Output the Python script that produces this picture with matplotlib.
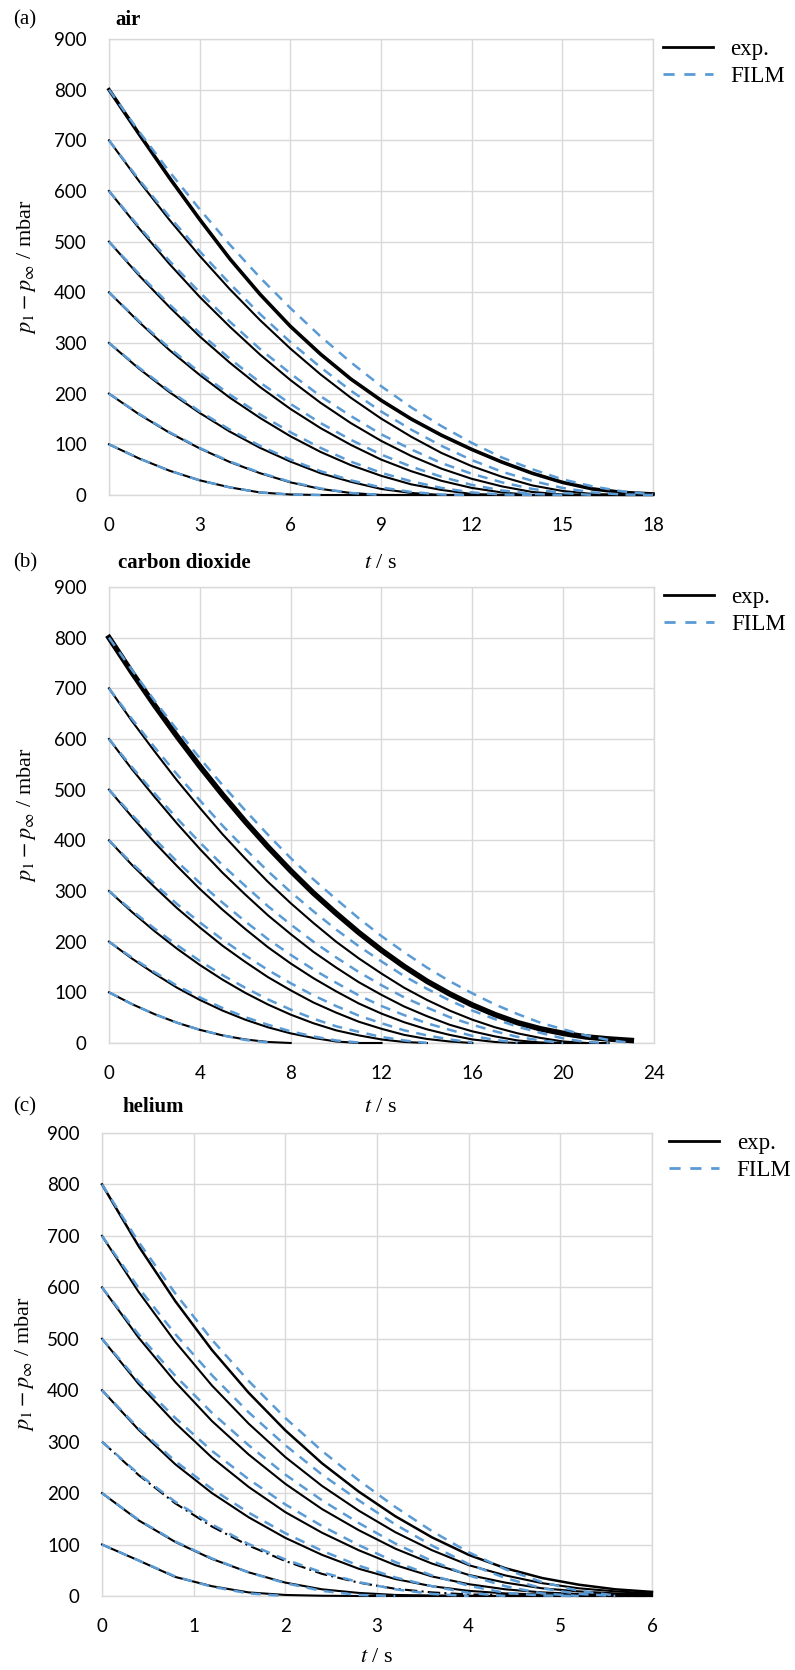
import numpy as np
import matplotlib
matplotlib.use("Agg")
import matplotlib.pyplot as plt
from matplotlib.lines import Line2D

plt.rcParams['font.family'] = ['Liberation Serif', 'DejaVu Serif']
plt.rcParams['mathtext.fontset'] = 'stix'

BLUE = '#5b9bd5'
GRID = '#d9d9d9'
N = None

# ---- data (pressure difference in mbar) ----
start_p = [100, 200, 300, 400, 500, 600, 700, 800]

# (a) air, t = 0..18 s
air_t = list(range(19))
air_exp = [
    [100, 72, 48, 29, 15, 5, 1, 0, 0, 0, 0, 0, 0, 0, 0, 0, 0, 0, 0],
    [200, 159, 123, 92, 65, 43, 25, 12, 4, 0, 0, 0, 0, 0, 0, 0, 0, 0, 0],
    [300, 249, 203, 162, 125, 93, 66, 43, 26, 12, 4, 0, 0, 0, 0, 0, 0, 0, 0],
    [400, 341, 286, 237, 192, 152, 116, 85, 59, 38, 21, 10, 2, 0, 0, 0, 0, 0, 0],
    [500, 433, 371, 313, 261, 213, 170, 132, 99, 70, 47, 28, 14, 5, 0, 0, 0, 0, 0],
    [600, 526, 456, 391, 332, 277, 227, 182, 142, 107, 77, 52, 32, 17, 6, 1, 0, 0, 0],
    [700, 619, 543, 472, 406, 345, 289, 238, 192, 151, 115, 83, 57, 36, 19, 8, 2, 0, 0],
    [800, 712, 626, 544, 466, 396, 333, 278, 229, 187, 150, 118, 90, 65, 43, 25, 12, 5, 2],
]
air_film = [
    [100, 72, 48, 29, 15, 5, 1, 0, N, N, N, N, N, N, N, N, N, N, N],
    [200, 160, 124, 93, 66, 44, 26, 13, 4, 0, N, N, N, N, N, N, N, N, N],
    [300, 251, 206, 165, 129, 97, 70, 47, 29, 15, 6, 1, 0, N, N, N, N, N, N],
    [400, 343, 290, 242, 198, 159, 124, 93, 66, 44, 27, 14, 5, 1, 0, N, N, N, N],
    [500, 436, 376, 320, 269, 222, 180, 142, 109, 80, 56, 36, 20, 9, 2, 0, N, N, N],
    [600, 529, 462, 400, 342, 288, 240, 195, 156, 120, 90, 63, 42, 25, 12, 4, 0, N, N],
    [700, 622, 549, 481, 417, 357, 302, 252, 206, 165, 129, 97, 69, 46, 28, 14, 5, 1, 0],
    [800, 717, 638, 564, 494, 429, 369, 313, 262, 215, 173, 136, 103, 74, 51, 31, 17, 7, 1],
]

# (b) carbon dioxide, t = 0..23 s
co2_t = list(range(24))
co2_exp = [
    [100, 77, 57, 40, 26, 15, 7, 2, 0] + [N] * 15,
    [200, 167, 137, 109, 85, 64, 46, 31, 19, 10, 3, 0, 0] + [N] * 11,
    [300, 259, 221, 186, 154, 125, 99, 76, 56, 39, 25, 15, 7, 2, 0] + [N] * 9,
    [400, 352, 308, 266, 228, 192, 160, 130, 104, 80, 60, 42, 28, 16, 8, 3, 0] + [N] * 7,
    [500, 447, 396, 349, 304, 263, 225, 189, 157, 128, 102, 78, 58, 41, 27, 16, 7, 2, 0, 0, 0] + [N] * 3,
    [600, 541, 486, 433, 383, 336, 293, 252, 215, 180, 149, 120, 95, 72, 53, 36, 23, 13, 5, 1, 0, 0] + [N] * 2,
    [700, 636, 576, 518, 464, 412, 364, 318, 276, 237, 200, 167, 137, 109, 85, 64, 46, 31, 19, 10, 3, 0, 0] + [N],
    [800, 732, 667, 605, 546, 490, 437, 387, 340, 296, 256, 218, 183, 151, 122, 97, 75, 56, 40, 28, 19, 12, 8, 5],
]
co2_film = [
    [100, 77, 57, 40, 26, 15, 6, 1] + [N] * 16,
    [200, 169, 140, 113, 90, 69, 51, 36, 23, 13, 5, 1] + [N] * 12,
    [300, 262, 226, 193, 162, 134, 109, 86, 66, 48, 33, 22, 12, 5, 0] + [N] * 9,
    [400, 355, 314, 274, 238, 204, 173, 144, 118, 94, 73, 54, 39, 25, 15, 7, 1] + [N] * 7,
    [500, 451, 403, 358, 316, 277, 240, 205, 174, 145, 119, 94, 73, 55, 39, 26, 14, 6, 1] + [N] * 5,
    [600, 545, 493, 443, 396, 351, 310, 270, 234, 200, 169, 140, 114, 90, 70, 51, 36, 23, 12, 5, 0] + [N] * 3,
    [700, 640, 584, 530, 479, 429, 383, 339, 298, 260, 224, 191, 161, 132, 107, 84, 64, 47, 32, 20, 9, 2, 0] + [N],
    [800, 737, 676, 618, 562, 509, 459, 411, 365, 323, 284, 246, 211, 179, 149, 122, 98, 76, 57, 40, 27, 15, 6, 0],
]

# (c) helium, t = 0..6 s in 0.4 s steps
he_t = [0, 0.4, 0.8, 1.2, 1.6, 2.0, 2.4, 2.8, 3.2, 3.6, 4.0, 4.4, 4.8, 5.2, 5.6, 6.0]
he_exp = [
    [100, 69, 37, 19, 7, 2, 0.5, 0, 0, 0, 0, 0, 0, 0, 0, 0],
    [200, 147, 105, 72, 46, 26, 13, 6, 2, 1, 0.5, 0, 0, 0, 0, 0],
    [300, 235, 180, 135, 98, 68, 43, 26, 14, 7, 3, 2, 1, 0.5, 0, 0],
    [400, 323, 256, 200, 153, 113, 80, 53, 33, 19, 10, 5, 3, 2, 1, 1],
    [500, 412, 336, 269, 212, 163, 123, 89, 60, 38, 23, 13, 7, 4, 3, 2],
    [600, 502, 416, 340, 275, 218, 169, 128, 92, 63, 41, 26, 15, 9, 5, 3],
    [700, 591, 494, 409, 335, 270, 214, 166, 124, 89, 60, 40, 25, 15, 9, 5],
    [800, 680, 573, 478, 395, 322, 258, 203, 155, 114, 80, 54, 35, 22, 13, 8],
]
he_film = [
    [100, 69, 38, 18, 5, 0] + [N] * 10,
    [200, 148, 106, 73, 46, 25, 10, 2, 0] + [N] * 7,
    [300, 237, 183, 139, 101, 71, 46, 27, 13, 4, 0] + [N] * 5,
    [400, 326, 262, 208, 162, 122, 88, 59, 36, 19, 6, 0] + [N] * 4,
    [500, 417, 346, 282, 227, 178, 136, 99, 66, 40, 20, 6, 1, 0] + [N] * 2,
    [600, 508, 428, 356, 293, 236, 186, 142, 102, 68, 40, 19, 5, 0] + [N] * 2,
    [700, 599, 509, 429, 357, 293, 236, 186, 139, 98, 62, 35, 15, 4, 0, N],
    [800, 688, 588, 498, 418, 346, 282, 225, 173, 126, 85, 52, 27, 10, 1, N],
]

W, H = 795, 1670
fig = plt.figure(figsize=(W / 100, H / 100), dpi=100)


def px_rect(left, top, right, bottom):
    return [left / W, 1 - bottom / H, (right - left) / W, (bottom - top) / H]


def panel(rect, t, exp_rows, film_rows, xmax, xstep, leg_x, thick_lw, dashed_exp=None):
    ax = fig.add_axes(rect)
    t = np.array(t, dtype=float)
    for i, row in enumerate(exp_rows):
        lw = thick_lw if i == len(exp_rows) - 1 else 1.5
        ls = '-'
        if dashed_exp is not None and i == dashed_exp:
            ls = (0, (6, 2, 1, 2))
        ax.plot(t, np.array(row, dtype=float), color='black', lw=lw, ls=ls, clip_on=False, zorder=3)
    for row in film_rows:
        ax.plot(t, np.array(row, dtype=float), color=BLUE, lw=1.8, dashes=(4, 3), clip_on=False, zorder=4)
    ax.set_xlim(0, xmax)
    ax.set_ylim(0, 900)
    ax.set_xticks(np.arange(0, xmax + xstep / 2, xstep))
    ax.set_yticks(range(0, 901, 100))
    ax.grid(color=GRID, lw=1.0)
    ax.set_axisbelow(True)
    for s in ax.spines.values():
        s.set_color(GRID)
        s.set_linewidth(1.0)
    ax.tick_params(length=0, labelsize=13.5, pad=16)
    for lab in ax.get_xticklabels() + ax.get_yticklabels():
        lab.set_fontfamily('Lato')
    handles = [Line2D([], [], color='black', lw=2.0),
               Line2D([], [], color=BLUE, lw=2.0, dashes=(4, 3.5))]
    ax.legend(handles, ['exp.', 'FILM'], loc='upper left', bbox_to_anchor=(leg_x, 1.0),
              frameon=False, fontsize=16.5, handlelength=2.2, handletextpad=0.75,
              labelspacing=0.25, borderpad=0, borderaxespad=0)
    return ax


panel(px_rect(109, 39, 653, 495), air_t, air_exp, air_film, 18, 3, 1.018, 2.6)
panel(px_rect(109, 587, 654, 1043), co2_t, co2_exp, co2_film, 24, 4, 1.018, 4.0)
panel(px_rect(102, 1133, 652, 1596), he_t, he_exp, he_film, 6, 1, 1.031, 1.8, dashed_exp=2)

# panel letters and gas names
for letter, name, y, xname in [('(a)', 'air', 20, 115), ('(b)', 'carbon dioxide', 563, 118),
                               ('(c)', 'helium', 1107, 122)]:
    fig.text(13 / W, 1 - y / H, letter, fontsize=15, va='center', ha='left')
    fig.text(xname / W, 1 - y / H, name, fontsize=15, fontweight='bold', va='center', ha='left')

# axis titles
for yc, xc in [(267, 27), (815, 27), (1364, 24)]:
    fig.text(xc / W, 1 - yc / H, r'$p_1 - p_\infty$ / mbar', rotation=90, fontsize=16,
             va='center', ha='center')
for yc, xc in [(563, 381), (1107, 381), (1657, 377)]:
    fig.text(xc / W, 1 - yc / H, r'$t$ / s', fontsize=16, va='center', ha='center')

fig.savefig('out.png', dpi=100)
